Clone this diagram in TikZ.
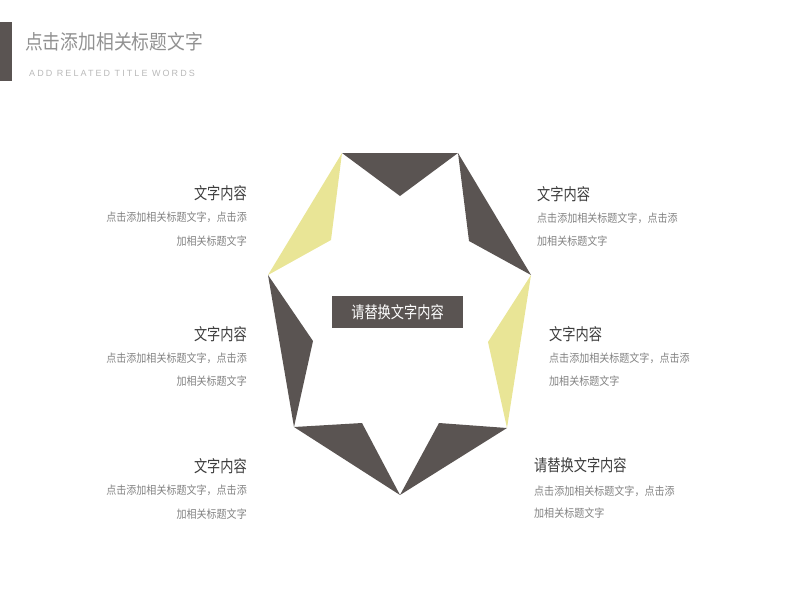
\documentclass[tikz,border=0pt]{standalone}
\usepackage{fontspec}
\newfontfamily\cjkh[FakeStretch=0.8]{Noto Sans CJK SC}
\newfontfamily\cjkb[FakeStretch=0.88]{Noto Sans CJK SC}
\newfontfamily\subfont[LetterSpace=23]{Liberation Sans}
\definecolor{darkc}{RGB}{90,84,82}
\definecolor{yelc}{RGB}{233,229,150}
\definecolor{titlec}{RGB}{145,145,145}
\definecolor{subc}{RGB}{185,185,185}
\definecolor{headc}{RGB}{60,60,60}
\definecolor{bodyc}{RGB}{130,130,130}
\tikzset{
  piece/.style={fill=darkc},
  ypiece/.style={fill=yelc},
  head/.style={inner sep=0pt, text=headc, font=\cjkh\fontsize{16.5}{18}\selectfont},
  body/.style={inner sep=0pt, text=bodyc, font=\cjkb\fontsize{11.4}{13}\selectfont},
}
\begin{document}
\begin{tikzpicture}[x=1pt,y=-1pt]
\useasboundingbox (0,0) rectangle (800,600);
% title
\fill[darkc] (0,22) rectangle (12,81);
\node[anchor=west, inner sep=0pt, text=titlec, font=\cjkb\fontsize{20.2}{22}\selectfont] (title) at (25,42) {点击添加相关标题文字};
\node[anchor=west, inner sep=0pt, text=subc, font=\subfont\fontsize{9}{10}\selectfont] (sub) at (29,73) {ADD RELATED TITLE WORDS};
% pieces
\coordinate (A) at (342,153);
\coordinate (B) at (458,153);
\coordinate (T) at (400,196);
\coordinate (C) at (531,275);
\coordinate (Ri) at (469,241);
\coordinate (L) at (268,275);
\coordinate (Li) at (331,240);
\coordinate (D) at (507,428);
\coordinate (Rm) at (488,342);
\coordinate (E) at (294,427);
\coordinate (Lm) at (313,341);
\coordinate (F) at (400,495);
\coordinate (Bl) at (362,423);
\coordinate (Br) at (439,423);
\fill[piece] (A) -- (B) -- (T) -- cycle;
\fill[piece] (B) -- (C) -- (Ri) -- cycle;
\fill[ypiece] (A) -- (L) -- (Li) -- cycle;
\fill[ypiece] (C) -- (D) -- (Rm) -- cycle;
\fill[piece] (L) -- (E) -- (Lm) -- cycle;
\fill[piece] (E) -- (F) -- (Bl) -- cycle;
\fill[piece] (D) -- (F) -- (Br) -- cycle;
% center box
\node[fill=darkc, text=white, minimum width=131pt, minimum height=32pt, inner sep=0pt, font=\cjkh\fontsize{16.5}{18}\selectfont] (center) at (397.5,312) {请替换文字内容};
% left blocks
\node[head, anchor=east] (lh1) at (247,193) {文字内容};
\node[body, anchor=east] (lb1a) at (247,217.5) {点击添加相关标题文字，点击添};
\node[body, anchor=east] (lb1b) at (247,241) {加相关标题文字};
\node[head, anchor=east] (lh2) at (247,334) {文字内容};
\node[body, anchor=east] (lb2a) at (247,358) {点击添加相关标题文字，点击添};
\node[body, anchor=east] (lb2b) at (247,381.5) {加相关标题文字};
\node[head, anchor=east] (lh3) at (247,466) {文字内容};
\node[body, anchor=east] (lb3a) at (247,490.5) {点击添加相关标题文字，点击添};
\node[body, anchor=east] (lb3b) at (247,514) {加相关标题文字};
% right blocks
\node[head, anchor=west] (rh1) at (537,194) {文字内容};
\node[body, anchor=west] (rb1a) at (537,218) {点击添加相关标题文字，点击添};
\node[body, anchor=west] (rb1b) at (537,241) {加相关标题文字};
\node[head, anchor=west] (rh2) at (549,334) {文字内容};
\node[body, anchor=west] (rb2a) at (549,358) {点击添加相关标题文字，点击添};
\node[body, anchor=west] (rb2b) at (549,381.5) {加相关标题文字};
\node[head, anchor=west] (rh3) at (534,465.5) {请替换文字内容};
\node[body, anchor=west] (rb3a) at (534,491) {点击添加相关标题文字，点击添};
\node[body, anchor=west] (rb3b) at (534,513.5) {加相关标题文字};
\end{tikzpicture}
\end{document}
